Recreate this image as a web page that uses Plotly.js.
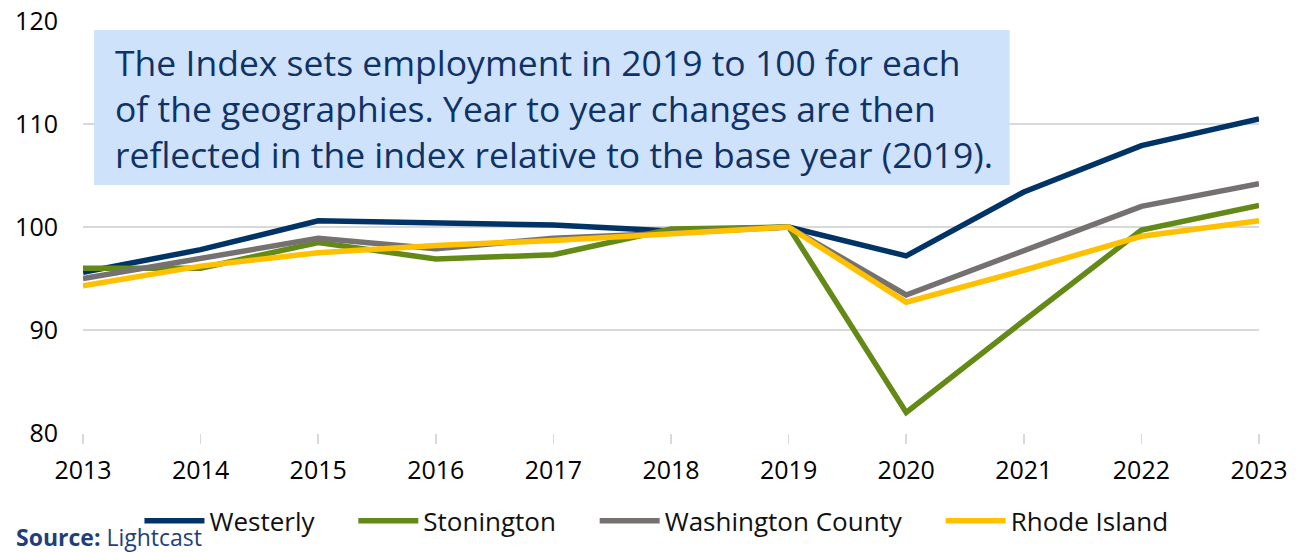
<!DOCTYPE html>
<html>
<head>
<meta charset="utf-8">
<script src="https://cdn.plot.ly/plotly-3.0.1.min.js"></script>
<style>html,body{margin:0;padding:0;background:#fff;}#chart{width:1310px;height:552px;}</style>
</head>
<body>
<div id="chart"></div>
<script>
const years = [2013, 2014, 2015, 2016, 2017, 2018, 2019, 2020, 2021, 2022, 2023];
const westerly = [95.6, 97.8, 100.6, 100.4, 100.2, 99.6, 100, 97.2, 103.4, 107.9, 110.5];
const stonington = [96.0, 96.0, 98.5, 96.9, 97.3, 99.8, 100, 82.0, 90.9, 99.7, 102.1];
const washington = [95.0, 96.9, 98.9, 97.9, 98.9, 99.4, 100, 93.4, 97.7, 102.0, 104.2];
const rhodeIsland = [94.3, 96.2, 97.5, 98.2, 98.7, 99.4, 100, 92.7, 95.8, 99.1, 100.6];
const seriesNames = ["Westerly", "Stonington", "Washington County", "Rhode Island"];
const seriesColors = ["#003366", "#638a17", "#767171", "#ffc000"];
const yTicks = [80, 90, 100, 110, 120];
const noteText = "The Index sets employment in 2019 to 100 for each<br>of the geographies. Year to year changes are then<br>reflected in the index relative to the base year (2019).";
const sourceText = "<b>Source:</b> Lightcast";

const seriesValues = [westerly, stonington, washington, rhodeIsland];
const pad = "\u00a0\u00a0\u00a0\u00a0\u00a0";
const traces = seriesValues.map((vals, i) => ({
  x: years, y: vals, type: "scatter", mode: "lines",
  name: i < seriesNames.length - 1 ? seriesNames[i] + pad : seriesNames[i],
  line: {color: seriesColors[i], width: 5.5}
}));

const font = "'Open Sans', 'Noto Sans', sans-serif";
const layout = {
  width: 1310, height: 552,
  margin: {l: 83, r: 51, t: 21, b: 119},
  paper_bgcolor: "#fff", plot_bgcolor: "#fff",
  font: {family: font, color: "#000", size: 25},
  showlegend: true,
  legend: {orientation: "h", x: 0.048, xanchor: "left", yref: "container", y: 0.099, yanchor: "top",
    font: {size: 26, family: font, color: "#111"}, itemwidth: 60, traceorder: "normal"},
  xaxis: {range: [2013, 2023], tickmode: "array", tickvals: years, ticktext: years.map(String),
    showgrid: false, zeroline: false, showline: false, ticks: "outside", ticklen: 10,
    ticklabelstandoff: 5, automargin: false,
    tickcolor: "#d9d9d9", tickwidth: 1.5, tickfont: {size: 25, color: "#000"}, fixedrange: true},
  yaxis: {range: [80, 120], tickmode: "array", tickvals: yTicks, ticktext: yTicks.map(String),
    showgrid: true, gridcolor: "#d9d9d9", gridwidth: 1.5, zeroline: false, showline: false,
    ticks: "", ticklabelstandoff: 24, automargin: false, tickfont: {size: 25, color: "#000"}, fixedrange: true},
  shapes: [
    {type: "rect", xref: "paper", yref: "paper", x0: 0.0094, x1: 0.788, y0: 0.602, y1: 0.978,
     fillcolor: "#cfe2fb", line: {width: 0}, layer: "above"}
  ],
  annotations: [
    {xref: "paper", yref: "paper", x: 0.0255, y: 0.789, xanchor: "left", yanchor: "middle",
     text: noteText, showarrow: false, align: "left",
     font: {size: 35.5, color: "#0f3366", family: font}},
    {xref: "paper", yref: "paper", x: -0.058, y: -0.294, xanchor: "left", yanchor: "bottom",
     text: sourceText, showarrow: false, borderpad: 0, font: {size: 23, color: "#1f3f7a", family: font}}
  ]
};

Plotly.newPlot("chart", traces, layout, {displayModeBar: false, staticPlot: true});
</script>
</body>
</html>
